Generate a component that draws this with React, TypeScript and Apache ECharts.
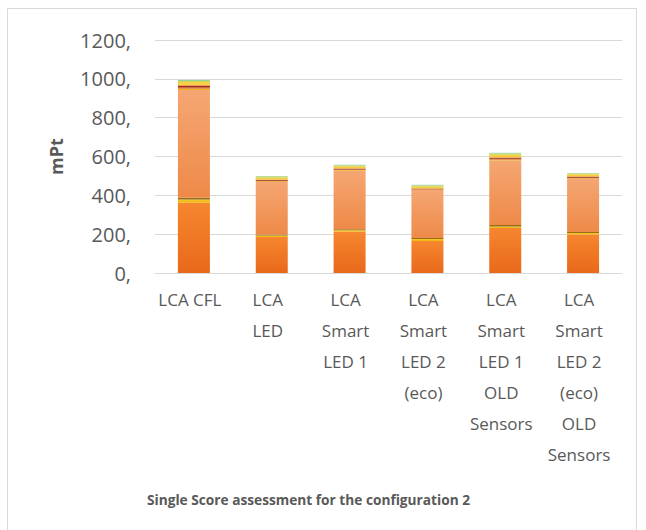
import React, { useEffect, useRef } from "react";
import * as echarts from "echarts";

const categories = [
  "LCA CFL",
  "LCA LED",
  "LCA Smart LED 1",
  "LCA Smart LED 2 (eco)",
  "LCA Smart LED 1 OLD Sensors",
  "LCA Smart LED 2 (eco) OLD Sensors",
];
const categoryLabels = [
  "LCA CFL",
  "LCA\nLED",
  "LCA\nSmart\nLED 1",
  "LCA\nSmart\nLED 2\n(eco)",
  "LCA\nSmart\nLED 1\nOLD\nSensors",
  "LCA\nSmart\nLED 2\n(eco)\nOLD\nSensors",
];

const yTicks = [0, 200, 400, 600, 800, 1000, 1200];

// stacked impact categories, bottom to top (mPt)
const climateHealth = [362, 185, 212, 165, 232, 198];
const ozoneDepletion = [16, 8, 8, 10, 8, 8];
const humanToxicity = [10, 5, 5, 5, 7, 5];
const particulateMatter = [555, 271, 302, 248, 333, 274];
const ionisingRadiation = [7, 3, 3, 2, 4, 3];
const climateEcosystems = [7, 3, 3, 1, 4, 3];
const acidification = [7, 4, 4, 3, 5, 4];
const eutrophication = [5, 3, 3, 2, 3, 3];
const ecotoxicity = [15, 10, 10, 10, 13, 10];
const landOccupation = [5, 5, 4, 5, 6, 4];
const metalDepletion = [5, 3, 3, 3, 4, 3];

const seriesDefs = [
  { name: "Climate change Human Health", data: climateHealth, top: "#f6862f", bottom: "#e8691a" },
  { name: "Ozone depletion", data: ozoneDepletion, top: "#f8c62a", bottom: "#f1b610" },
  { name: "Human toxicity", data: humanToxicity, top: "#a07418", bottom: "#8c6410" },
  { name: "Particulate matter formation", data: particulateMatter, top: "#f5a673", bottom: "#ee8a48" },
  { name: "Ionising radiation", data: ionisingRadiation, top: "#f5c02a", bottom: "#eeb020" },
  { name: "Climate change Ecosystems", data: climateEcosystems, top: "#d9561f", bottom: "#cc4a18" },
  { name: "Terrestrial acidification", data: acidification, top: "#a5321a", bottom: "#8e2a16" },
  { name: "Freshwater eutrophication", data: eutrophication, top: "#f09a3a", bottom: "#ea8a2a" },
  { name: "Terrestrial ecotoxicity", data: ecotoxicity, top: "#fad54e", bottom: "#f5c432" },
  { name: "Agricultural land occupation", data: landOccupation, top: "#cfe063", bottom: "#bcd24c" },
  { name: "Metal depletion", data: metalDepletion, top: "#a8d6a6", bottom: "#92c98d" },
];

const FONT = "'Open Sans', sans-serif";

export default function App() {
  const ref = useRef<HTMLDivElement>(null);
  useEffect(() => {
    if (!ref.current) return;
    const chart = echarts.init(ref.current, undefined, { renderer: "svg" });
    chart.setOption({
      animation: false,
      backgroundColor: "#ffffff",
      grid: { left: 155, right: 24, top: 40, bottom: 257 },
      xAxis: {
        type: "category",
        data: categories,
        axisLine: { lineStyle: { color: "#d9d9d9", width: 1 } },
        axisTick: { show: false },
        axisLabel: {
          interval: 0,
          margin: 11,
          color: "#595959",
          fontFamily: FONT,
          fontSize: 17,
          lineHeight: 31,
          verticalAlign: "top",
          padding: [0, 8, 0, 0],
          formatter: (_v: string, i: number) => categoryLabels[i],
        },
      },
      yAxis: {
        type: "value",
        min: yTicks[0],
        max: yTicks[yTicks.length - 1],
        interval: 200,
        name: "mPt",
        nameLocation: "middle",
        nameGap: 90,
        nameRotate: 90,
        nameTextStyle: { color: "#595959", fontFamily: FONT, fontSize: 18, fontWeight: "bold" },
        axisLine: { show: false },
        axisTick: { show: false },
        splitLine: { lineStyle: { color: "#d9d9d9", width: 1 } },
        axisLabel: {
          margin: 24,
          color: "#595959",
          fontFamily: FONT,
          fontSize: 20,
          formatter: (v: number) => v + ",",
        },
      },
      graphic: [
        {
          type: "rect",
          shape: { x: 7.5, y: 8.5, width: 629, height: 540 },
          style: { fill: "none", stroke: "#d9d9d9", lineWidth: 1 },
          silent: true,
        },
        {
          type: "text",
          left: 147,
          top: 492,
          style: {
            text: "Single Score assessment for the configuration 2",
            fill: "#595959",
            font: `bold 13.7px ${FONT}`,
          },
        },
      ],
      series: seriesDefs.map((s) => ({
        name: s.name,
        type: "bar",
        stack: "total",
        barWidth: 32,
        data: s.data,
        itemStyle: {
          color: new echarts.graphic.LinearGradient(0, 0, 0, 1, [
            { offset: 0, color: s.top },
            { offset: 1, color: s.bottom },
          ]),
        },
      })),
    });
    return () => chart.dispose();
  }, []);
  return (
    <div
      ref={ref}
      style={{ position: "absolute", left: 0, top: 0, width: 646, height: 530 }}
    />
  );
}
